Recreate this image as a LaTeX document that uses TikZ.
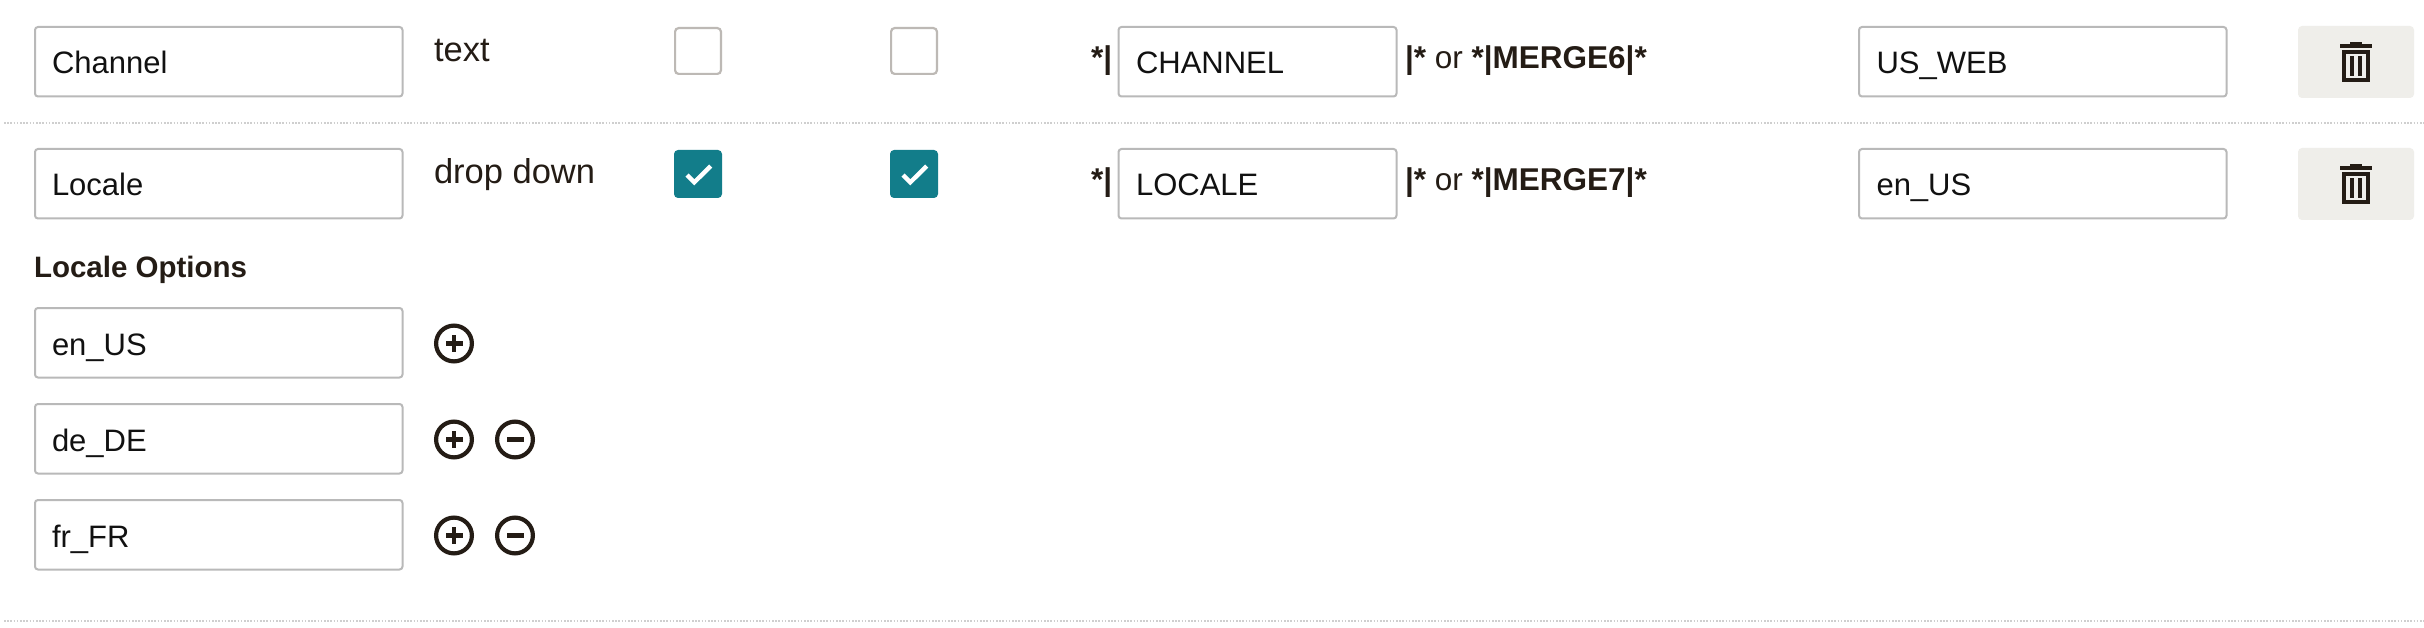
\documentclass[tikz,border=0pt]{standalone}
\usepackage{fontspec}
\setmainfont{Liberation Sans}
\definecolor{ink}{HTML}{241C15}
\definecolor{inptxt}{HTML}{111111}
\definecolor{fieldline}{HTML}{B9B9B9}
\definecolor{boxline}{HTML}{BDB9B5}
\definecolor{teal}{HTML}{127D8A}
\definecolor{trashbg}{HTML}{EFEEEA}
\definecolor{rule}{HTML}{CFCFCF}
\tikzset{
  fieldbox/.style={draw=fieldline,line width=2pt,fill=white,rounded corners=3pt,inner sep=0pt,outer sep=0pt,anchor=north west},
  inputtext/.style={inner sep=0pt,outer sep=0pt,anchor=base west,text=inptxt,font=\fontsize{31}{36}\selectfont},
  labeltext/.style={inner sep=0pt,outer sep=0pt,anchor=base west,text=ink,font=\fontsize{34.5}{38}\selectfont},
  mergetext/.style={inner sep=0pt,outer sep=0pt,anchor=base west,text=ink,font=\fontsize{31.5}{38}\selectfont},
  headtext/.style={inner sep=0pt,outer sep=0pt,anchor=base west,text=ink,font=\bfseries\fontsize{29.5}{36}\selectfont},
  emptycheck/.style={draw=boxline,line width=2.2pt,fill=white,rounded corners=3.5pt,minimum width=45.8pt,minimum height=45.8pt,inner sep=0pt,outer sep=0pt,anchor=north west},
  fullcheck/.style={fill=teal,rounded corners=4pt,minimum width=48pt,minimum height=48pt,inner sep=0pt,outer sep=0pt,anchor=north west},
  tick/.style={draw=white,line width=4.4pt},
  trashback/.style={fill=trashbg,rounded corners=4pt,minimum width=116pt,minimum height=72pt,inner sep=0pt,outer sep=0pt,anchor=north west},
  roundbtn/.style={circle,draw=ink,line width=4.2pt,fill=white,minimum size=35.8pt,inner sep=0pt,outer sep=0pt},
  dotrule/.style={draw=rule,line width=1.6pt,dash pattern=on 1.6pt off 1.6pt},
}
% name, left, top, right, bottom
\newcommand\fieldat[5]{%
  \pgfmathsetmacro\fW{#4-#2-2}\pgfmathsetmacro\fH{#5-#3-2}%
  \node[fieldbox,minimum width=\fW pt,minimum height=\fH pt] (#1) at (#2+1,#3+1) {};}
% name suffix, top y offset
\newcommand\trashat[2]{%
  \node[trashback] (#1) at (2298,26+#2) {};
  \fill[ink] (2350,42+#2) rectangle (2362,44+#2);
  \fill[ink] (2340,44+#2) rectangle (2372,48+#2);
  \fill[ink] (2342,50+#2) rectangle (2370,82+#2);
  \fill[trashbg] (2346,54+#2) rectangle (2366,78+#2);
  \fill[ink] (2350,56+#2) rectangle (2354,76+#2);
  \fill[ink] (2358,56+#2) rectangle (2362,76+#2);}
\newcommand\plusat[2]{%
  \node[roundbtn] (#1) at (454,#2) {};
  \fill[ink] (445.5,#2-2.2) rectangle (462.5,#2+2.2);
  \fill[ink] (451.8,#2-8.5) rectangle (456.2,#2+8.5);}
\newcommand\minusat[2]{%
  \node[roundbtn] (#1) at (515,#2) {};
  \fill[ink] (506.5,#2-2.2) rectangle (523.5,#2+2.2);}
\newcommand\tickat[2]{%
  \draw[tick] (#1+13,#2+25) -- (#1+20.3,#2+32.3) -- (#1+36.7,#2+16);}
\begin{document}
\begin{tikzpicture}[x=1pt,y=-1pt]
\useasboundingbox (0,0) rectangle (2424,628);
\fill[white] (0,0) rectangle (2424,628);
% separators
\coordinate (ruleAa) at (4,123); \coordinate (ruleAb) at (2424,123);
\coordinate (ruleBa) at (4,621); \coordinate (ruleBb) at (2424,621);
\draw[dotrule] (ruleAa) -- (ruleAb);
\draw[dotrule] (ruleBa) -- (ruleBb);
% row 1
\fieldat{nameA}{34}{26}{403.5}{97.5}
\node[inputtext] (nameAt) at (52,74) {Channel};
\node[labeltext] (typeA) at (434,62) {text};
\node[emptycheck] (reqA) at (675.1,28.1) {};
\node[emptycheck] (visA) at (891.1,28.1) {};
\node[mergetext] (preA) at (1091,69) {\textbf{*|}};
\fieldat{tagA}{1117.5}{26}{1397.5}{97.5}
\node[inputtext] (tagAt) at (1136,74) {CHANNEL};
\node[mergetext] (postA) at (1405,69) {\textbf{|*} or \textbf{*|MERGE6|*}};
\fieldat{defA}{1858}{26}{2227.5}{97.5}
\node[inputtext] (defAt) at (1876.5,74) {US\_WEB};
\trashat{delA}{0}
% row 2
\fieldat{nameB}{34}{148}{403.5}{219.5}
\node[inputtext] (nameBt) at (52,196) {Locale};
\node[labeltext] (typeB) at (434,184) {drop down};
\node[fullcheck] (reqB) at (674,150) {};
\tickat{674}{150}
\node[fullcheck] (visB) at (890,150) {};
\tickat{890}{150}
\node[mergetext] (preB) at (1091,191) {\textbf{*|}};
\fieldat{tagB}{1117.5}{148}{1397.5}{219.5}
\node[inputtext] (tagBt) at (1136,196) {LOCALE};
\node[mergetext] (postB) at (1405,191) {\textbf{|*} or \textbf{*|MERGE7|*}};
\fieldat{defB}{1858}{148}{2227.5}{219.5}
\node[inputtext] (defBt) at (1876.5,196) {en\_US};
\trashat{delB}{122}
% options
\node[headtext] (opts) at (34,277) {Locale Options};
\fieldat{optA}{34}{307}{403.5}{378.5}
\node[inputtext] (optAt) at (52,355) {en\_US};
\plusat{plusA}{343.5}
\fieldat{optB}{34}{403}{403.5}{474.5}
\node[inputtext] (optBt) at (52,451) {de\_DE};
\plusat{plusB}{439.5}
\minusat{minusB}{439.5}
\fieldat{optC}{34}{499}{403.5}{570.5}
\node[inputtext] (optCt) at (52,547) {fr\_FR};
\plusat{plusC}{535.5}
\minusat{minusC}{535.5}
\end{tikzpicture}
\end{document}
